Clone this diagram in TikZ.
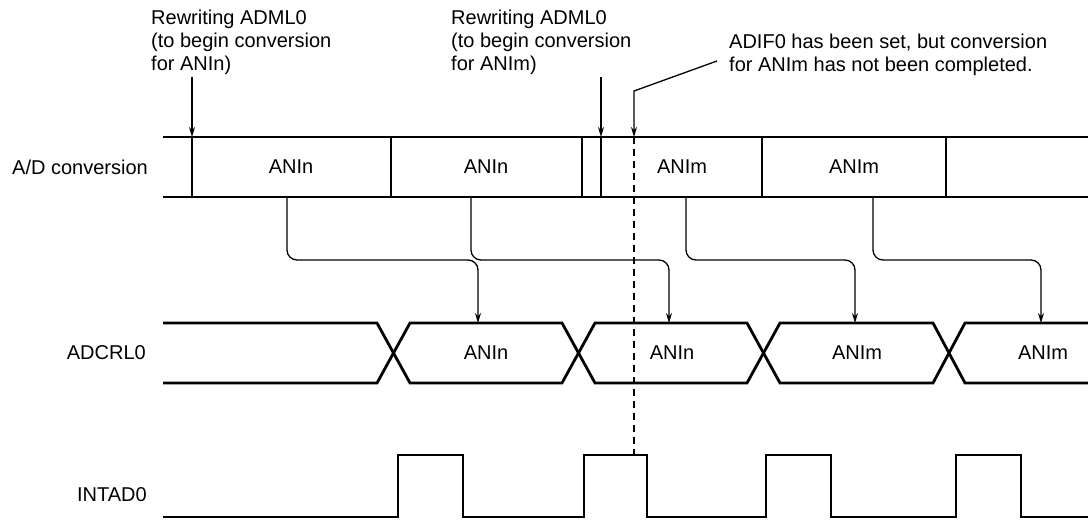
\documentclass[tikz,border=0pt]{standalone}
\usepackage{fontspec}
\setmainfont{Liberation Sans}
\usetikzlibrary{arrows.meta}
\begin{document}
\begin{tikzpicture}[x=1pt,y=-1pt,
  sig/.style={line width=2.8pt},
  divider/.style={line width=1.4pt},
  conn/.style={line width=1.3pt,rounded corners=10pt,-{Stealth[length=10pt,width=6pt]}},
  arr/.style={line width=1.3pt,-{Stealth[length=10pt,width=6pt]}},
  dashline/.style={line width=1.3pt,dash pattern=on 7pt off 5pt},
  lbl/.style={font=\fontsize{20}{23}\selectfont,inner sep=0pt},
  ann/.style={lbl,align=left,anchor=north west},
  ]
\useasboundingbox (0,0) rectangle (1088,521);

% row labels
\node[lbl,anchor=east] (lad) at (148,167) {A/D conversion};
\node[lbl,anchor=east] (lcr) at (146,353) {ADCRL0};
\node[lbl,anchor=east] (lin) at (147,495) {INTAD0};

% annotations
\node[ann] (ann1) at (151,9.5) {Rewriting ADML0\\(to begin conversion\\for ANIn)};
\node[ann] (ann2) at (451,9.5) {Rewriting ADML0\\(to begin conversion\\for ANIm)};
\node[ann] (ann3) at (729,33.5) {ADIF0 has been set, but conversion\\for ANIm has not been completed.};

% A/D conversion row
\draw[sig] (163,137) -- (1088,137);
\draw[sig] (163,197) -- (1088,197);
\foreach \x/\n in {192/d1,391/d2,582/d3,601/d4,762/d5,946/d6}{
  \coordinate (\n t) at (\x,137);
  \coordinate (\n b) at (\x,197);
  \draw[divider] (\n t) -- (\n b);
}
\node[lbl] (a1) at (291,167) {ANIn};
\node[lbl] (a2) at (486,167) {ANIn};
\node[lbl] (a3) at (682,167) {ANIm};
\node[lbl] (a4) at (854,167) {ANIm};

% annotation arrows
\coordinate (p1) at (192,77);
\coordinate (p2) at (601,77);
\draw[arr] (p1) -- (d1t);
\draw[arr] (p2) -- (d4t);
\coordinate (q0) at (717,61);
\coordinate (q1) at (634,91);
\coordinate (q2) at (634,137);
\coordinate (q3) at (634,455);
\draw[arr] (q0) -- (q1) -- (q2);
\draw[dashline] (q2) -- (q3);

% ADCRL0 row
\draw[sig,line join=miter] (163,323) -- (377,323) -- (410,383) -- (562,383) -- (595,323) -- (747,323) -- (780,383) -- (933,383) -- (965,323) -- (1088,323);
\draw[sig,line join=miter] (163,383) -- (377,383) -- (410,323) -- (562,323) -- (595,383) -- (747,383) -- (780,323) -- (933,323) -- (965,383) -- (1088,383);
\node[lbl] (c1) at (486,353) {ANIn};
\node[lbl] (c2) at (672,353) {ANIn};
\node[lbl] (c3) at (857,353) {ANIm};
\node[lbl] (c4) at (1043,353) {ANIm};

% connectors
\foreach \s/\t/\n in {287/478/1,471/669/2,686/855/3,873/1041/4}{
  \coordinate (s\n) at (\s,197);
  \coordinate (t\n) at (\t,323);
  \draw[conn] (s\n) -- ++(0,63) -| (t\n);
}

% INTAD0 row
\draw[sig,line join=miter] (163,517) -- (398,517) -- (398,455) -- (463,455) -- (463,517) -- (584,517) -- (584,455) -- (647,455) -- (647,517) -- (766,517) -- (766,455) -- (831,455) -- (831,517) -- (956,517) -- (956,455) -- (1021,455) -- (1021,517) -- (1088,517);
\end{tikzpicture}
\end{document}
